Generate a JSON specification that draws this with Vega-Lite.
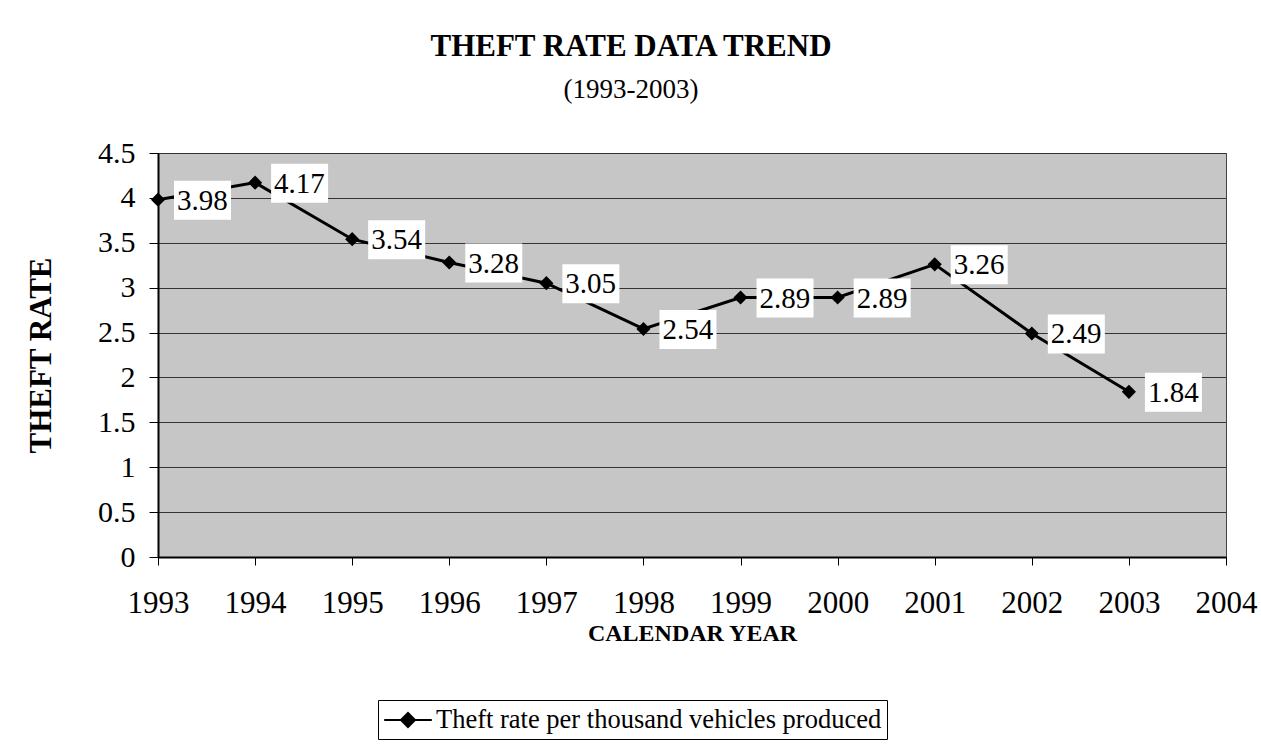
{
  "$schema": "https://vega.github.io/schema/vega-lite/v6.json",
  "width": 1068,
  "height": 404,
  "autosize": {"type": "none"},
  "padding": {"left": 158, "top": 153, "right": 35, "bottom": 194},
  "background": "white",
  "title": {
    "text": "THEFT RATE DATA TREND",
    "subtitle": "(1993-2003)",
    "anchor": "middle",
    "dx": -61,
    "offset": 34,
    "font": "Liberation Serif",
    "fontSize": 31,
    "fontWeight": "bold",
    "color": "black",
    "subtitleFont": "Liberation Serif",
    "subtitleFontSize": 27,
    "subtitleColor": "black",
    "subtitlePadding": 14
  },
  "data": {
    "values": [
      {"year": 1993, "rate": 3.98, "series": "Theft rate per thousand vehicles produced"},
      {"year": 1994, "rate": 4.17, "series": "Theft rate per thousand vehicles produced"},
      {"year": 1995, "rate": 3.54, "series": "Theft rate per thousand vehicles produced"},
      {"year": 1996, "rate": 3.28, "series": "Theft rate per thousand vehicles produced"},
      {"year": 1997, "rate": 3.05, "series": "Theft rate per thousand vehicles produced"},
      {"year": 1998, "rate": 2.54, "series": "Theft rate per thousand vehicles produced"},
      {"year": 1999, "rate": 2.89, "series": "Theft rate per thousand vehicles produced"},
      {"year": 2000, "rate": 2.89, "series": "Theft rate per thousand vehicles produced"},
      {"year": 2001, "rate": 3.26, "series": "Theft rate per thousand vehicles produced"},
      {"year": 2002, "rate": 2.49, "series": "Theft rate per thousand vehicles produced"},
      {"year": 2003, "rate": 1.84, "series": "Theft rate per thousand vehicles produced"}
    ]
  },
  "encoding": {
    "x": {
      "field": "year",
      "type": "quantitative",
      "scale": {"domain": [1993, 2004], "nice": false, "zero": false},
      "axis": {
        "values": [1993, 1994, 1995, 1996, 1997, 1998, 1999, 2000, 2001, 2002, 2003, 2004],
        "format": "d",
        "grid": false,
        "labelFlush": false,
        "labelOverlap": false,
        "tickSize": 8,
        "labelPadding": 23,
        "labelFontSize": 31,
        "labelFont": "Liberation Serif",
        "labelColor": "black",
        "title": "CALENDAR YEAR",
        "titleFont": "Liberation Serif",
        "titleFontSize": 24,
        "titleFontWeight": "bold",
        "titleColor": "black",
        "titlePadding": 3,
        "domainColor": "black",
        "domainWidth": 2,
        "tickColor": "black",
        "tickWidth": 1
      }
    },
    "y": {
      "field": "rate",
      "type": "quantitative",
      "scale": {"domain": [0, 4.5], "nice": false},
      "axis": {
        "values": [0, 0.5, 1, 1.5, 2, 2.5, 3, 3.5, 4, 4.5],
        "format": "~g",
        "grid": true,
        "gridColor": "#333333",
        "gridWidth": 1,
        "tickSize": 9,
        "labelPadding": 14,
        "labelFontSize": 30,
        "labelFont": "Liberation Serif",
        "labelColor": "black",
        "title": "THEFT RATE",
        "titleFont": "Liberation Serif",
        "titleFontSize": 31,
        "titleFontWeight": "bold",
        "titleColor": "black",
        "titlePadding": 40,
        "domainColor": "black",
        "domainWidth": 2,
        "tickColor": "black",
        "tickWidth": 1
      }
    }
  },
  "layer": [
    {
      "mark": {"type": "line", "strokeWidth": 3},
      "encoding": {
        "color": {
          "field": "series",
          "type": "nominal",
          "scale": {"range": ["black"]},
          "legend": {
            "orient": "none",
            "legendX": 220,
            "legendY": 547,
            "title": null,
            "strokeColor": "black",
            "padding": 5,
            "labelFont": "Liberation Serif",
            "labelFontSize": 26.5,
            "labelColor": "black",
            "labelLimit": 0,
            "labelOffset": 13,
            "symbolType": "M-1.7,0H1.7M-0.5,0L0,-0.5L0.5,0L0,0.5Z",
            "symbolSize": 784,
            "symbolOffset": 10,
            "symbolStrokeWidth": 2,
            "encode": {
              "symbols": {
                "update": {
                  "fill": {"value": "black"},
                  "stroke": {"value": "black"},
                  "strokeWidth": {"value": 2}
                }
              }
            }
          }
        }
      }
    },
    {
      "mark": {
        "type": "point",
        "shape": "M16,-19H73V20H16Z",
        "size": 4,
        "filled": true,
        "color": "white",
        "opacity": 1,
        "strokeWidth": 0
      }
    },
    {
      "mark": {
        "type": "point",
        "shape": "diamond",
        "size": 200,
        "filled": true,
        "color": "black",
        "opacity": 1
      }
    },
    {
      "mark": {
        "type": "text",
        "align": "left",
        "baseline": "middle",
        "dx": 19,
        "dy": 1,
        "font": "Liberation Serif",
        "fontSize": 29,
        "color": "black"
      },
      "encoding": {
        "text": {"field": "rate", "type": "quantitative", "format": ".2f"}
      }
    }
  ],
  "config": {
    "view": {"fill": "#c6c6c6", "stroke": "#444444", "strokeWidth": 1}
  }
}
